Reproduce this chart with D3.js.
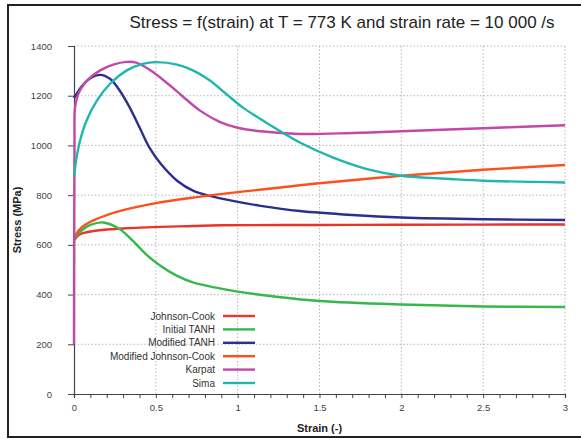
<!DOCTYPE html>
<html>
<head>
<meta charset="utf-8">
<script src="https://cdn.jsdelivr.net/npm/d3@7"></script>
<style>
  body { margin: 0; background: #fff; }
  svg { display: block; font-family: "Liberation Sans", Arial, sans-serif; }
  .grid line { stroke: #b8b8b8; stroke-dasharray: 1.5 2; }
  .tick-label { font-size: 9.5px; fill: #444; }
  .legend { font-size: 10px; fill: #333; }
</style>
</head>
<body>
<div id="chart"></div>
<script>
// Stress–strain curves (MPa vs strain).
const xTicks = [0, 0.5, 1, 1.5, 2, 2.5, 3];
const yTicks = [0, 200, 400, 600, 800, 1000, 1200, 1400];

const jcStrain = [0, 0.03, 0.06, 0.12, 0.32, 0.73, 0.9, 1.5, 2, 3];
const jcStress = [618, 640, 648, 656, 667, 676, 679, 680, 681, 682];

const tanhStrain = [0, 0.05, 0.1, 0.18, 0.28, 0.36, 0.44, 0.53, 0.63, 0.73, 0.89, 1.0, 1.25, 1.5, 2.0, 2.5, 3.0];
const tanhStress = [625, 660, 680, 690, 663, 616, 562, 515, 475, 448, 425, 412, 390, 374, 360, 352, 350];

const modTanhStrain = [0, 0.05, 0.1, 0.16, 0.22, 0.28, 0.34, 0.4, 0.46, 0.53, 0.63, 0.73, 0.83, 0.97, 1.14, 1.38, 1.7, 2.0, 2.5, 3.0];
const modTanhStress = [1190, 1240, 1270, 1284, 1268, 1220, 1153, 1073, 992, 926, 858, 817, 797, 777, 757, 736, 720, 710, 703, 700];

const modJcStrain = [0, 0.02, 0.05, 0.1, 0.2, 0.3, 0.5, 0.75, 1.0, 1.25, 1.5, 2.0, 2.5, 3.0];
const modJcStress = [625, 650, 672, 693, 720, 740, 768, 792, 812, 830, 848, 878, 902, 921];

const karpatStrain = [0, 0.003, 0.006, 0.02, 0.04, 0.08, 0.16, 0.24, 0.32, 0.38, 0.46, 0.57, 0.67, 0.77, 0.89, 1.0, 1.14, 1.38, 1.7, 2.0, 2.5, 3.0];
const karpatStress = [200, 1000, 1150, 1195, 1225, 1262, 1302, 1325, 1336, 1333, 1305, 1250, 1194, 1140, 1095, 1071, 1057, 1046, 1050, 1057, 1069, 1081];

const simaStrain = [0, 0.016, 0.037, 0.077, 0.14, 0.22, 0.32, 0.42, 0.5, 0.63, 0.73, 0.83, 0.93, 1.03, 1.14, 1.38, 1.58, 1.79, 2.0, 2.3, 2.5, 3.0];
const simaStress = [875, 952, 1019, 1100, 1180, 1248, 1301, 1328, 1335, 1325, 1301, 1261, 1207, 1153, 1106, 1012, 952, 905, 878, 865, 858, 851];

const seriesNames = ["Johnson-Cook", "Initial TANH", "Modified TANH", "Modified Johnson-Cook", "Karpat", "Sima"];
const seriesColors = ["#e8352a", "#36b84a", "#2c2f8c", "#ff4f1e", "#c249a8", "#1fb6b2"];
const seriesX = [jcStrain, tanhStrain, modTanhStrain, modJcStrain, karpatStrain, simaStrain];
const seriesY = [jcStress, tanhStress, modTanhStress, modJcStress, karpatStress, simaStress];

const W = 581, H = 439;
const M = { left: 74, right: 16, top: 46, bottom: 45 };

const svg = d3.select("#chart").append("svg").attr("width", W).attr("height", H);

// outer frame (right edge runs off the picture)
svg.append("rect").attr("x", 8).attr("y", 5).attr("width", W).attr("height", 432)
  .attr("fill", "#fff").attr("stroke", "#222").attr("stroke-width", 2);

const x = d3.scaleLinear().domain([0, 3]).range([M.left, W - M.right]);
const y = d3.scaleLinear().domain([0, 1400]).range([H - M.bottom, M.top]);

// grid
const grid = svg.append("g").attr("class", "grid");
grid.selectAll(".gx").data(xTicks.slice(1)).enter().append("line")
  .attr("x1", d => x(d)).attr("x2", d => x(d)).attr("y1", y(0)).attr("y2", y(1400));
grid.selectAll(".gy").data(yTicks.slice(1)).enter().append("line")
  .attr("x1", x(0)).attr("x2", x(3)).attr("y1", d => y(d)).attr("y2", d => y(d));

// axes
const yAxis = svg.append("g").attr("transform", `translate(${x(0)},0)`)
  .call(d3.axisLeft(y).tickValues(yTicks).tickSize(6).tickPadding(16).tickFormat(d3.format("d")));
const xAxis = svg.append("g").attr("transform", `translate(0,${y(0)})`)
  .call(d3.axisBottom(x).tickValues(d3.range(0, 31).map(i => i / 10)).tickSize(4)
    .tickFormat(d => xTicks.includes(d) ? d3.format("")(d) : ""));
[yAxis, xAxis].forEach(a => {
  a.select(".domain").attr("stroke", "#444").attr("stroke-width", 1.2);
  a.selectAll(".tick line").attr("stroke", "#444");
  a.selectAll(".tick text").attr("class", "tick-label").attr("font-family", null).attr("font-size", null);
});
xAxis.selectAll(".tick text").attr("dy", "1.1em");

// curves
const line = d3.line().curve(d3.curveCatmullRom.alpha(0.5));
seriesNames.forEach((name, i) => {
  const pts = seriesX[i].map((s, j) => [x(s), y(seriesY[i][j])]);
  svg.append("path").attr("d", line(pts)).attr("fill", "none")
    .attr("stroke", seriesColors[i]).attr("stroke-width", 2.4);
});

// legend
const lg = svg.append("g");
seriesNames.forEach((name, i) => {
  const ly = 316 + i * 13.4;
  lg.append("text").attr("class", "legend").attr("x", 215).attr("y", ly + 3.5)
    .attr("text-anchor", "end").text(name);
  lg.append("line").attr("x1", 223).attr("x2", 255).attr("y1", ly).attr("y2", ly)
    .attr("stroke", seriesColors[i]).attr("stroke-width", 2.4);
});

// titles
svg.append("text").attr("x", 342).attr("y", 28).attr("text-anchor", "middle")
  .attr("font-size", 17).attr("fill", "#222")
  .text("Stress = f(strain) at T = 773 K and strain rate = 10 000 /s");
svg.append("text").attr("x", (x(0) + x(3)) / 2).attr("y", 432).attr("text-anchor", "middle")
  .attr("font-size", 11).attr("font-weight", "bold").attr("fill", "#222").text("Strain (-)");
svg.append("text").attr("transform", `translate(21,${(y(0) + y(1400)) / 2}) rotate(-90)`)
  .attr("text-anchor", "middle").attr("font-size", 11).attr("font-weight", "bold")
  .attr("fill", "#222").text("Stress (MPa)");
</script>
</body>
</html>
